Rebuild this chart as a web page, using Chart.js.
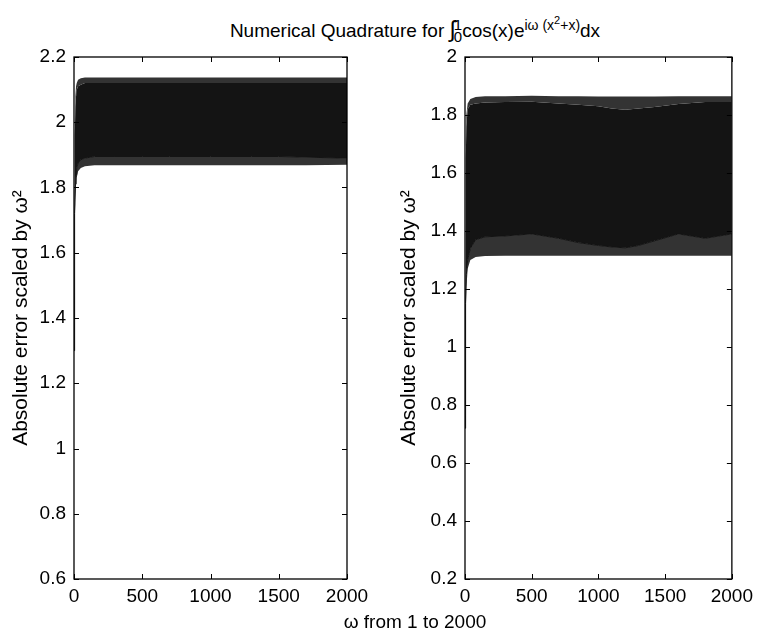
<!DOCTYPE html>
<html>
<head>
<meta charset="utf-8">
<script src="https://cdn.jsdelivr.net/npm/chart.js@4/dist/chart.umd.min.js"></script>
<style>
  html,body{margin:0;padding:0;background:#fff;}
  body{width:759px;height:635px;position:relative;overflow:hidden;font-family:"Liberation Sans",Arial,sans-serif;color:#000;}
  .cv{position:absolute;top:0;}
  #title{position:absolute;left:0;width:830px;top:2px;text-align:center;font-size:19px;white-space:nowrap;line-height:36px;}
  #xtitle{position:absolute;left:0;width:830px;top:611px;text-align:center;font-size:19px;line-height:22px;}
  .lim{display:inline-block;vertical-align:middle;line-height:12px;font-size:15px;position:relative;top:-1px;margin-left:-2px;}
  .lim span{display:block;}
  .int{font-size:23px;}
  sup{font-size:14px;}
  sup sup{font-size:11px;}
</style>
</head>
<body>
<div id="title">Numerical Quadrature for <span class="int">∫</span><span class="lim"><span>1</span><span>0</span></span>cos(x)e<sup>iω (x<sup>2</sup>+x)</sup>dx</div>
<canvas id="c1" class="cv" width="380" height="635" style="left:0px"></canvas>
<canvas id="c2" class="cv" width="379" height="635" style="left:380px"></canvas>
<div id="xtitle">ω from 1 to 2000</div>
<script>
// ---- Data ----
// Left panel: envelope of the oscillating error curve
const omegaL      = [1, 3, 6, 10, 15, 20, 30, 50, 80, 150, 300, 500, 700, 1000, 1300, 1500, 1700, 2000];
const upperTipL   = [1.30, 1.80, 2.00, 2.08, 2.11, 2.12, 2.13, 2.135, 2.137, 2.137, 2.137, 2.137, 2.137, 2.137, 2.137, 2.137, 2.137, 2.137];
const upperSolidL = [1.30, 1.75, 1.96, 2.05, 2.08, 2.10, 2.11, 2.115, 2.12, 2.12, 2.12, 2.12, 2.12, 2.12, 2.12, 2.12, 2.12, 2.12];
const lowerSolidL = [1.30, 1.55, 1.72, 1.80, 1.84, 1.86, 1.875, 1.885, 1.89, 1.895, 1.895, 1.895, 1.895, 1.895, 1.895, 1.895, 1.893, 1.89];
const lowerTipL   = [1.30, 1.50, 1.68, 1.77, 1.81, 1.83, 1.85, 1.86, 1.865, 1.868, 1.868, 1.868, 1.868, 1.868, 1.868, 1.868, 1.868, 1.87];

// Right panel
const omegaR      = [1, 3, 6, 10, 20, 40, 80, 150, 300, 500, 700, 850, 1000, 1100, 1200, 1300, 1420, 1600, 1800, 2000];
const upperTipR   = [0.72, 1.45, 1.70, 1.80, 1.84, 1.855, 1.862, 1.865, 1.865, 1.866, 1.865, 1.865, 1.864, 1.864, 1.864, 1.864, 1.864, 1.865, 1.865, 1.865];
const upperSolidR = [0.72, 1.40, 1.65, 1.76, 1.82, 1.835, 1.84, 1.843, 1.845, 1.846, 1.84, 1.835, 1.83, 1.822, 1.818, 1.822, 1.828, 1.838, 1.845, 1.845];
const lowerSolidR = [0.72, 0.95, 1.15, 1.25, 1.30, 1.34, 1.37, 1.38, 1.383, 1.39, 1.375, 1.36, 1.35, 1.345, 1.342, 1.35, 1.366, 1.39, 1.375, 1.39];
const lowerTipR   = [0.72, 0.90, 1.10, 1.20, 1.27, 1.30, 1.31, 1.314, 1.315, 1.315, 1.315, 1.315, 1.315, 1.315, 1.315, 1.315, 1.315, 1.315, 1.315, 1.315];

const xTicks = [0, 500, 1000, 1500, 2000];
const yTicksL = [0.6, 0.8, 1, 1.2, 1.4, 1.6, 1.8, 2, 2.2];
const yTicksR = [0.2, 0.4, 0.6, 0.8, 1, 1.2, 1.4, 1.6, 1.8, 2];

const yTitle = 'Absolute error scaled by ω²';
const FONT = '"Liberation Sans", Arial, sans-serif';

function pts(xs, ys){ return xs.map((x,i)=>({x:x, y:ys[i]})); }

const frame = {
  id:'frame',
  afterDatasetsDraw(chart){
    const {ctx, chartArea:a, scales} = chart;
    ctx.save();
    ctx.strokeStyle = '#000';
    ctx.lineWidth = 1.3;
    ctx.strokeRect(a.left, a.top, a.right-a.left, a.bottom-a.top);
    const L = 5;
    ctx.lineWidth = 1;
    ctx.beginPath();
    scales.x.ticks.forEach(t=>{
      const p = Math.round(scales.x.getPixelForValue(t.value))+0.5;
      ctx.moveTo(p, a.bottom); ctx.lineTo(p, a.bottom-L);
      ctx.moveTo(p, a.top); ctx.lineTo(p, a.top+L);
    });
    scales.y.ticks.forEach(t=>{
      const p = Math.round(scales.y.getPixelForValue(t.value))+0.5;
      ctx.moveTo(a.left, p); ctx.lineTo(a.left+L, p);
      ctx.moveTo(a.right, p); ctx.lineTo(a.right-L, p);
    });
    ctx.stroke();
    ctx.restore();
  }
};

function makeChart(id, omega, ut, us, ls, lt, yTicks, yAxisWidth, padL, padR){
  const black = '#141414', gray = '#333333';
  return new Chart(document.getElementById(id), {
    type:'line',
    data:{ datasets:[
      {data:pts(omega, ut), borderWidth:0, borderColor:gray, pointRadius:0, fill:false},
      {data:pts(omega, us), borderWidth:0, borderColor:black, pointRadius:0, fill:{target:'-1'}, backgroundColor:gray},
      {data:pts(omega, ls), borderWidth:1, borderColor:black, pointRadius:0, fill:{target:'-1'}, backgroundColor:black},
      {data:pts(omega, lt), borderWidth:0, borderColor:gray, pointRadius:0, fill:{target:'-1'}, backgroundColor:gray}
    ]},
    options:{
      responsive:false, animation:false, events:[],
      layout:{padding:{top:57, left:padL, right:padR, bottom:0}},
      plugins:{legend:{display:false}, tooltip:{enabled:false}, title:{display:false}},
      scales:{
        x:{type:'linear', min:0, max:2000,
           afterBuildTicks(s){ s.ticks = xTicks.map(v=>({value:v})); },
           afterFit(s){ s.height = 56; },
           grid:{display:false, drawTicks:false}, border:{display:false},
           ticks:{color:'#000', font:{family:FONT, size:19}, padding:6, maxRotation:0,
                  callback:v=>String(v)}},
        y:{type:'linear', min:yTicks[0], max:yTicks[yTicks.length-1],
           afterBuildTicks(s){ s.ticks = yTicks.map(v=>({value:v})); },
           afterFit(s){ s.width = yAxisWidth; },
           grid:{display:false, drawTicks:false}, border:{display:false},
           title:{display:true, text:yTitle, color:'#000', font:{family:FONT, size:21}, padding:{top:0,bottom:0}},
           ticks:{color:'#000', font:{family:FONT, size:19}, padding:8,
                  callback:v=>String(Number(v.toFixed(1)))}}
      }
    },
    plugins:[frame]
  });
}

makeChart('c1', omegaL, upperTipL, upperSolidL, lowerSolidL, lowerTipL, yTicksL, 65, 9, 33);
makeChart('c2', omegaR, upperTipR, upperSolidR, lowerSolidR, lowerTipR, yTicksR, 68, 17, 21);
</script>
</body>
</html>
